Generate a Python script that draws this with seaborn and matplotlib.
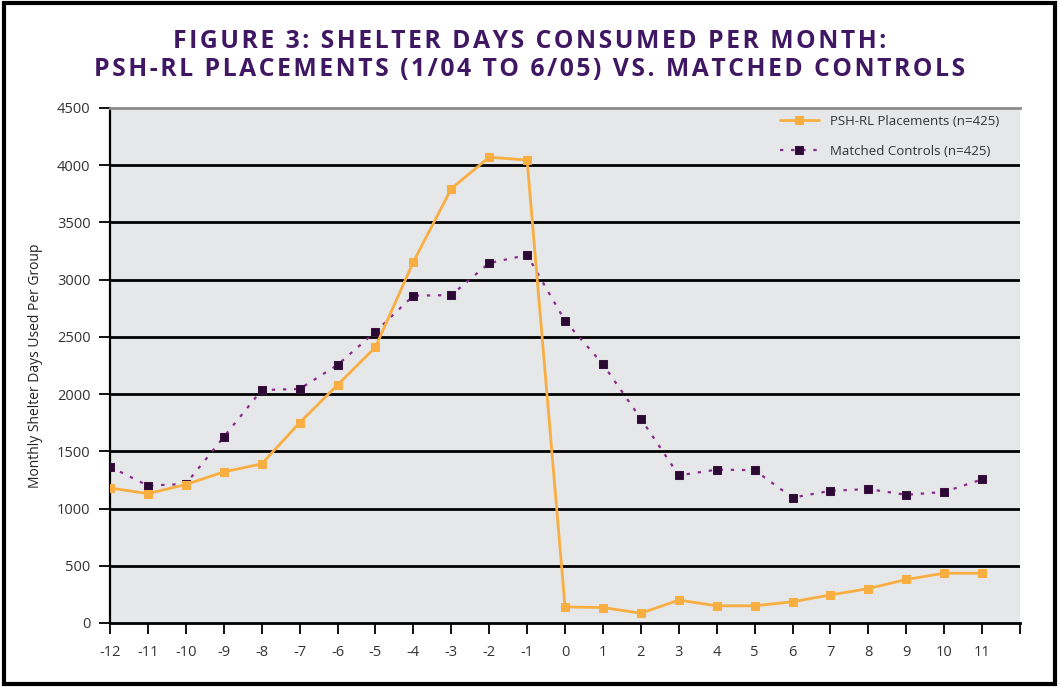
"""Figure 3: shelter days consumed per month, PSH-RL placements vs matched controls."""

import numpy as np
import pandas as pd
import matplotlib
matplotlib.use("Agg")
import matplotlib.pyplot as plt
from matplotlib.patches import Rectangle
import seaborn as sns

MONTHS = list(range(-12, 12))
PSH_RL = [1180, 1130, 1210, 1320, 1390, 1750, 2080, 2410, 3155, 3795, 4070, 4045,
          140, 135, 85, 200, 150, 150, 185, 245, 300, 380, 435, 435]
CONTROLS = [1365, 1200, 1215, 1625, 2035, 2045, 2255, 2545, 2860, 2865, 3145, 3215,
            2640, 2260, 1785, 1290, 1340, 1335, 1095, 1155, 1170, 1120, 1145, 1255]
SERIES = ["PSH-RL Placements (n=425)", "Matched Controls (n=425)"]
Y_TICKS = list(range(0, 5000, 500))
X_TICKS = list(range(-12, 13))

TITLE_LINES = ["FIGURE 3: SHELTER DAYS CONSUMED PER MONTH:",
               "PSH-RL PLACEMENTS (1/04 TO 6/05) VS. MATCHED CONTROLS"]
YLABEL = "Monthly Shelter Days Used Per Group"

df = pd.concat([
    pd.DataFrame({"month": MONTHS, "days": PSH_RL, "group": SERIES[0]}),
    pd.DataFrame({"month": MONTHS, "days": CONTROLS, "group": SERIES[1]}),
])

sns.set_theme(style="white")
plt.rcParams["font.family"] = ["Open Sans", "DejaVu Sans"]

fig = plt.figure(figsize=(10.59, 6.87), dpi=100)
ax = fig.add_axes([0.1039, 0.0932, 0.8593, 0.7496])
ax.set_facecolor("#e6e7e9")

orange = "#f9ae41"
purple = "#8a2a8e"

sns.lineplot(data=df[df.group == SERIES[0]], x="month", y="days", ax=ax,
             color=orange, lw=2, marker="s", markersize=6, markeredgecolor=orange,
             label=SERIES[0], zorder=4)
sns.lineplot(data=df[df.group == SERIES[1]], x="month", y="days", ax=ax,
             color=purple, lw=1.6, linestyle=(0, (1.5, 3.5)), marker="s", markersize=6,
             markerfacecolor="#2b0b33", markeredgecolor="#3a1040",
             label=SERIES[1], zorder=3)

ax.set_xlim(-12, 12)
ax.set_ylim(0, 4500)
ax.set_yticks(Y_TICKS)
ax.set_xticks(X_TICKS)
ax.set_xticklabels([str(m) if m < 12 else "" for m in X_TICKS])

for y in Y_TICKS[1:-1]:
    ax.axhline(y, color="black", lw=2, zorder=1)

ax.spines["right"].set_visible(False)
ax.spines["top"].set_color("#8c8c8c")
ax.spines["top"].set_linewidth(2)
ax.spines["left"].set_color("black")
ax.spines["left"].set_linewidth(1.6)
ax.spines["bottom"].set_color("black")
ax.spines["bottom"].set_linewidth(2)

ax.tick_params(axis="both", direction="out", length=8, width=1.3, color="black",
               labelsize=10.5, labelcolor="#333333", bottom=True, left=True)
ax.tick_params(axis="x", pad=8)
ax.tick_params(axis="y", pad=6)

ax.set_xlabel("")
ax.set_ylabel(YLABEL, fontsize=10, color="#222222", labelpad=10)

leg = ax.legend(loc="upper right", frameon=False, fontsize=9.5, handlelength=3,
                labelspacing=1.3, bbox_to_anchor=(0.99, 1.01))
for t in leg.get_texts():
    t.set_color("#333333")

# letter-spaced title, hair spaces between characters
spaced = ["\u200a".join(line) for line in TITLE_LINES]
fig.text(0.5, 0.940, spaced[0], ha="center", va="center", fontsize=17.8,
         fontweight="bold", color="#3f1763")
fig.text(0.5, 0.899, spaced[1], ha="center", va="center", fontsize=17.8,
         fontweight="bold", color="#3f1763")

fig.add_artist(Rectangle((0.004, 0.005), 0.992, 0.99, transform=fig.transFigure,
                         fill=False, edgecolor="black", lw=3))

fig.savefig("out.png", dpi=100)
